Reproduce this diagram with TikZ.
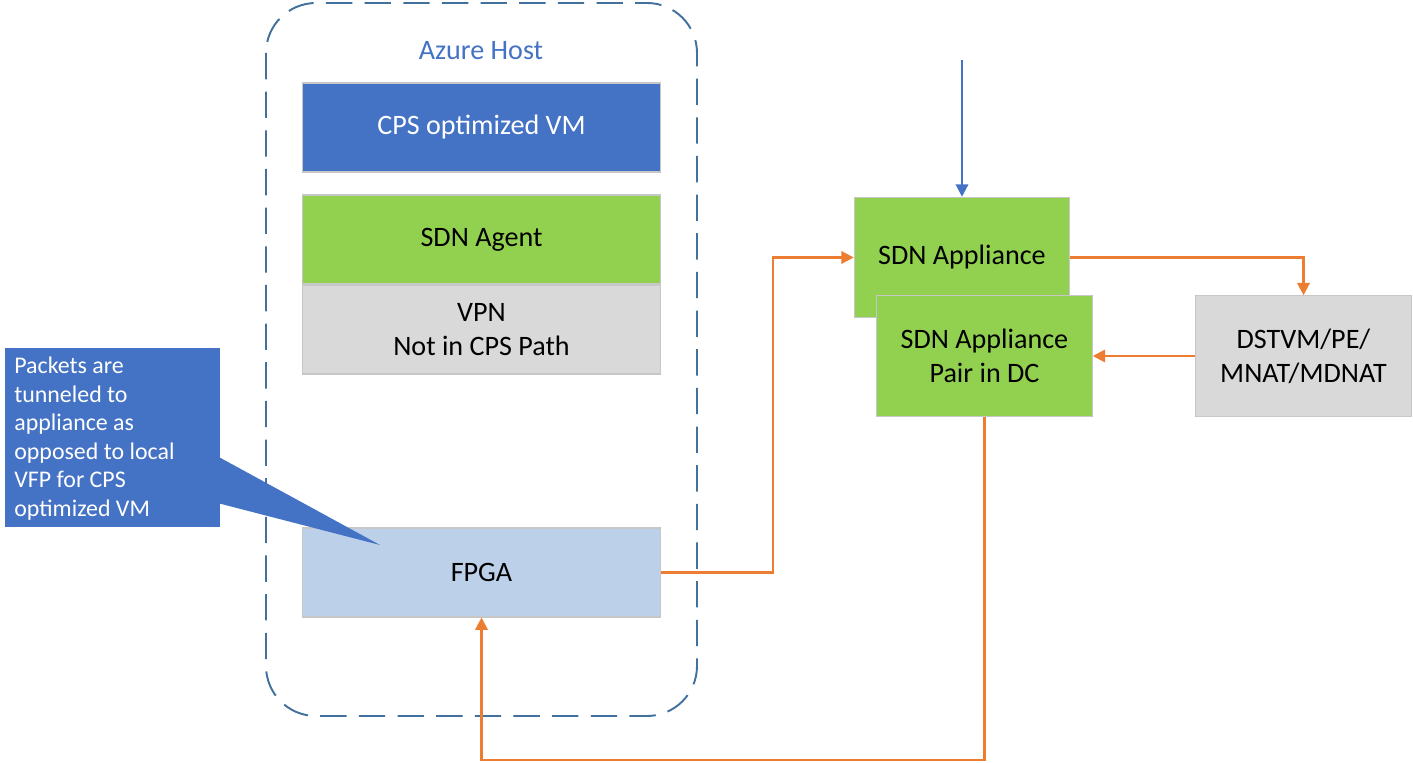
\documentclass[tikz,border=0pt]{standalone}
\usepackage{fontspec}
\setmainfont{Carlito}
\usepackage{tikz}
\usetikzlibrary{shapes, shapes.callouts, arrows.meta}

\definecolor{azblue}{HTML}{4472C4}
\definecolor{azgreen}{HTML}{92D050}
\definecolor{azgray}{HTML}{D9D9D9}
\definecolor{azlight}{HTML}{BDD0EA}
\definecolor{azorange}{HTML}{ED7D31}
\definecolor{azdash}{HTML}{41719C}

\begin{document}
\begin{tikzpicture}[x=0.02cm, y=-0.02cm,
                box/.style = {draw=black!22, line width=0.6pt, rectangle, align=center, font=\fontsize{16}{19.5}\selectfont, inner sep=0pt},
                hostbox/.style = {box, minimum width=7.18cm, minimum height=1.78cm},
                dcbox/.style = {box, minimum width=4.31cm, minimum height=2.41cm},
                flow/.style = {draw=azorange, line width=1.3pt, -{Triangle[length=7pt, width=7pt]}}] 
                \useasboundingbox (0, 0) rectangle (1413, 763);

                % host frame
                \draw[azdash, line width=1.1pt, dash pattern=on 15pt off 7pt, rounded corners=1cm] (266, 3) rectangle (697, 716);
                \node[text=azblue, font=\fontsize{16}{19.5}\selectfont] at (481, 51) (H) {Azure Host};

                \node[hostbox, fill=azblue, text=white] at (481.5, 127.5) (VM) {CPS optimized VM};
                \node[hostbox, fill=azgreen] at (481.5, 239.5) (AG) {SDN Agent};
                \node[hostbox, fill=azgray] at (481.5, 329.5) (VPN) {VPN\\Not in CPS Path};
                \node[hostbox, fill=azlight] at (481.5, 572.5) (FPGA) {FPGA};

                \node[dcbox, fill=azgreen] at (962, 257.5) (SDN) {SDN Appliance};
                \node[dcbox, fill=azgreen] at (984.5, 356) (PAIR) {SDN Appliance\\Pair in DC};
                \node[dcbox, fill=azgray] at (1303.5, 356) (DST) {DSTVM/PE/\\MNAT/MDNAT};

                \node[rectangle callout, fill=azblue, text=white, minimum width=4.3cm, minimum height=3.58cm,
                      callout absolute pointer={(380, 545)}, callout pointer width=0.92cm] at (112.5, 437.5) (C) {};
                \node[anchor=north west, text=white, align=left, inner sep=0pt, font=\fontsize{13.6}{16.2}\selectfont]
                      at (14, 357) (CT) {Packets are\\tunneled to\\appliance as\\opposed to local\\VFP for CPS\\optimized VM};

                \coordinate (T) at (962, 60);
                \coordinate (K1) at (773, 0);
                \coordinate (K2) at (0, 760);

                \draw [draw=azblue, line width=1.3pt, -{Triangle[length=7pt, width=7pt]}] (T) -- (SDN.north);
                \draw [flow] (FPGA.east) -- (FPGA.east -| K1) |- (SDN.west);
                \draw [flow] (SDN.east) -| (DST.north);
                \draw [flow] (DST.west) -- (PAIR.east);
                \draw [flow] (PAIR.south) -- (PAIR.south |- K2) -| (FPGA.south);
            \end{tikzpicture}
\end{document}
